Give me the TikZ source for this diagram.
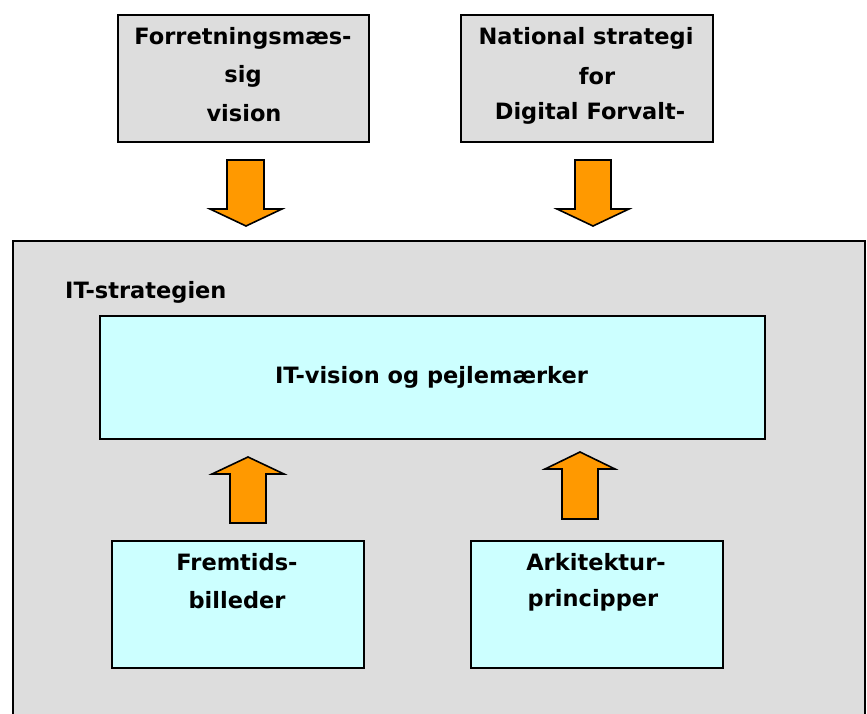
\documentclass[tikz,border=0pt]{standalone}
\usepackage{fontspec}
\setmainfont{DejaVu Sans}
\definecolor{boxgray}{HTML}{DDDDDD}
\definecolor{boxcyan}{HTML}{CCFFFF}
\definecolor{arroworange}{HTML}{FF9900}
\begin{document}
\begin{tikzpicture}[x=1pt,y=-1pt,
  box/.style={draw=black,line width=1.8pt,inner sep=0pt,anchor=north west},
  graybox/.style={box,fill=boxgray},
  cyanbox/.style={box,fill=boxcyan},
  lbl/.style={font=\fontsize{22.5}{38}\selectfont\bfseries,align=center},
  blockarrow/.style={draw=black,line width=1.6pt,fill=arroworange,line join=miter}]
\useasboundingbox (0,0) rectangle (867,714);
% source boxes at the top
\node[graybox,minimum width=251pt,minimum height=127pt] (biz) at (117,14) {};
\node[graybox,minimum width=252pt,minimum height=127pt] (nat) at (460,14) {};
\node[lbl] at (243,38) {Forretningsmæs-};
\node[lbl] at (243,76) {sig};
\node[lbl] at (244,113) {vision};
\node[lbl] at (586,38) {National strategi};
\node[lbl] at (597,76) {for};
\node[lbl] at (590,113) {Digital Forvalt-};
% downward block arrows
\draw[blockarrow] (227,160) -- (264,160) -- (264,209) -- (282,209) -- (246,226)
  -- (210,209) -- (227,209) -- cycle;
\draw[blockarrow] (575,160) -- (611,160) -- (611,209) -- (629,209) -- (593,226)
  -- (557,209) -- (575,209) -- cycle;
% the strategy frame (runs past the lower edge)
\draw[line width=1.8pt,fill=boxgray] (13,730) -- (13,241) -- (865,241) -- (865,730);
\node[lbl,anchor=base west,inner sep=0pt] (title) at (65,298) {IT-strategien};
\node[cyanbox,minimum width=665pt,minimum height=123pt] (vision) at (99,315) {};
\node[lbl] at (431.5,377) {IT-vision og pejlemærker};
% upward block arrows
\draw[blockarrow] (230,523) -- (266,523) -- (266,474) -- (284,474) -- (248,457)
  -- (212,474) -- (230,474) -- cycle;
\draw[blockarrow] (562,519) -- (598,519) -- (598,469) -- (615,469) -- (580,452)
  -- (545,469) -- (562,469) -- cycle;
% lower boxes
\node[cyanbox,minimum width=252pt,minimum height=127pt] (future) at (111,540) {};
\node[cyanbox,minimum width=252pt,minimum height=127pt] (arch) at (470,540) {};
\node[lbl] at (237,562) {Fremtids-};
\node[lbl] at (237,600) {billeder};
\node[lbl] at (596,562) {Arkitektur-};
\node[lbl] at (593,600) {principper};
\end{tikzpicture}
\end{document}
